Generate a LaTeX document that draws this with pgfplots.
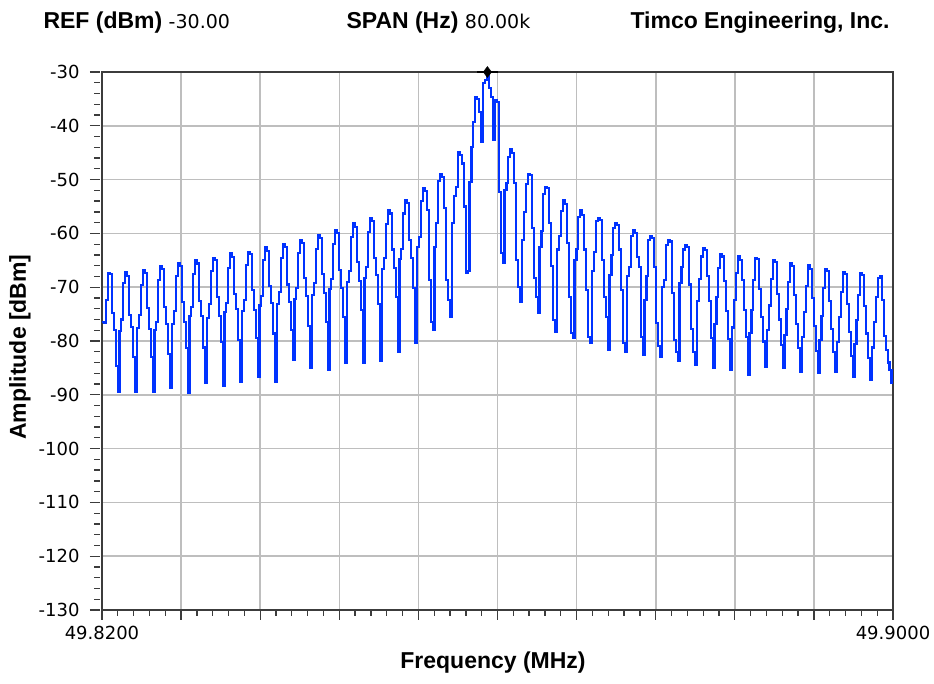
\documentclass[border=0pt]{standalone}
\usepackage{fontspec}
\setmainfont{Liberation Sans}
\newfontfamily\tickfont{DejaVu Sans}
\usepackage{pgfplots}
\pgfplotsset{compat=1.18}
\usepackage{pgfplotstable}

\definecolor{tracecol}{RGB}{0,50,255}
\definecolor{gridgray}{RGB}{190,190,190}
\definecolor{axisgray}{RGB}{60,60,60}

% one trace sample per row, about 1.94 px apart; one sidelobe per line
\pgfplotstableread[row sep=\\, header=false]{
-76.4\\ -76.6\\ -72.4\\
-67.4\\ -67.6\\ -74.8\\ -78.0\\ -84.6\\ -89.5\\ -78.1\\ -76.0\\ -69.3\\
-67.1\\ -67.9\\ -75.2\\ -77.4\\ -83.0\\ -89.5\\ -77.6\\ -75.1\\ -69.6\\
-66.8\\ -67.3\\ -73.9\\ -77.8\\ -82.9\\ -89.4\\ -77.9\\ -76.4\\ -68.6\\
-66.1\\ -66.7\\ -73.6\\ -76.9\\ -82.4\\ -88.7\\ -76.8\\ -74.5\\ -68.0\\
-65.6\\ -66.1\\ -72.7\\ -76.5\\ -81.3\\ -89.7\\ -75.4\\ -73.6\\ -67.5\\
-64.9\\ -65.6\\ -72.5\\ -75.3\\ -81.2\\ -87.8\\ -75.8\\ -73.2\\ -67.0\\
-64.6\\ -65.0\\ -71.8\\ -75.4\\ -80.2\\ -88.3\\ -74.6\\ -72.9\\ -66.4\\
-63.7\\ -64.4\\ -71.2\\ -74.1\\ -79.8\\ -87.6\\ -74.5\\ -72.3\\ -65.9\\
-63.4\\ -63.9\\ -70.6\\ -74.2\\ -79.4\\ -86.7\\ -73.4\\ -71.6\\ -65.0\\
-62.5\\ -63.2\\ -69.8\\ -73.0\\ -78.6\\ -87.6\\ -73.1\\ -70.9\\ -64.6\\
-62.0\\ -62.5\\ -69.5\\ -72.8\\ -77.9\\ -83.5\\ -72.2\\ -70.1\\ -63.6\\
-61.2\\ -61.8\\ -68.3\\ -71.7\\ -77.2\\ -85.0\\ -71.4\\ -69.2\\ -62.9\\
-60.3\\ -60.9\\ -67.6\\ -71.0\\ -76.4\\ -85.4\\ -70.3\\ -68.5\\ -61.9\\
-59.4\\ -60.0\\ -66.8\\ -70.1\\ -75.6\\ -84.0\\ -69.1\\ -67.0\\ -60.7\\
-58.1\\ -58.8\\ -65.4\\ -68.9\\ -74.3\\ -84.0\\ -68.3\\ -66.2\\ -59.8\\
-57.2\\ -57.7\\ -64.5\\ -67.8\\ -73.1\\ -83.8\\ -66.7\\ -64.6\\ -58.2\\
-55.7\\ -56.3\\ -63.0\\ -66.4\\ -71.9\\ -82.0\\ -64.8\\ -62.9\\ -56.3\\
-53.8\\ -54.4\\ -61.3\\ -64.6\\ -70.1\\ -80.4\\ -62.5\\ -60.6\\ -54.0\\
-51.5\\ -52.1\\ -55.7\\ -68.7\\ -76.5\\ -78.0\\ -62.5\\ -58.0\\ -50.2\\
-48.9\\ -49.5\\ -55.3\\ -68.7\\ -72.4\\ -75.5\\ -58.0\\ -53.0\\ -51.4\\
-44.8\\ -45.4\\ -47.0\\ -55.0\\ -67.4\\ -67.0\\ -50.4\\ -44.0\\ -39.3\\
-34.6\\ -35.0\\ -37.5\\ -43.0\\ -32.0\\ -31.5\\ -30.4\\ -33.0\\ -34.6\\
-42.6\\ -35.2\\ -35.6\\ -52.3\\ -63.7\\ -65.5\\ -52.0\\ -50.6\\ -45.8\\
-44.3\\ -45.0\\ -50.6\\ -65.0\\ -70.0\\ -72.8\\ -61.2\\ -56.0\\ -50.8\\
-49.0\\ -49.2\\ -59.0\\ -68.3\\ -71.8\\ -74.8\\ -62.5\\ -59.6\\ -52.7\\
-51.4\\ -51.6\\ -58.0\\ -66.0\\ -76.1\\ -78.3\\ -63.0\\ -60.5\\ -55.8\\
-53.8\\ -54.6\\ -61.8\\ -71.8\\ -78.5\\ -79.4\\ -65.0\\ -62.9\\ -57.0\\
-55.7\\ -56.6\\ -63.0\\ -70.5\\ -79.3\\ -80.4\\ -67.0\\ -63.5\\ -57.7\\
-57.2\\ -57.5\\ -65.0\\ -71.8\\ -75.5\\ -81.7\\ -67.7\\ -64.0\\ -59.0\\
-58.1\\ -58.4\\ -63.0\\ -70.5\\ -80.4\\ -82.0\\ -68.0\\ -66.2\\ -60.5\\
-59.4\\ -60.0\\ -64.4\\ -66.2\\ -79.3\\ -82.6\\ -72.4\\ -68.0\\ -61.3\\
-60.5\\ -60.9\\ -66.2\\ -76.7\\ -81.0\\ -83.0\\ -70.0\\ -68.7\\ -62.1\\
-61.2\\ -61.5\\ -71.0\\ -79.8\\ -82.1\\ -83.8\\ -69.2\\ -66.2\\ -63.0\\
-62.2\\ -62.6\\ -69.5\\ -77.8\\ -82.0\\ -84.5\\ -72.5\\ -68.4\\ -64.3\\
-62.7\\ -63.1\\ -68.0\\ -72.6\\ -79.4\\ -85.0\\ -76.8\\ -71.9\\ -66.5\\
-63.8\\ -64.3\\ -68.9\\ -74.5\\ -79.6\\ -85.4\\ -77.5\\ -72.3\\ -67.4\\
-64.2\\ -65.0\\ -68.7\\ -74.2\\ -79.2\\ -86.3\\ -78.5\\ -74.2\\ -68.7\\
-64.6\\ -64.8\\ -70.3\\ -75.6\\ -80.1\\ -84.8\\ -78.0\\ -73.4\\ -68.5\\
-64.9\\ -65.4\\ -71.2\\ -76.0\\ -80.7\\ -85.0\\ -78.9\\ -74.0\\ -69.1\\
-65.5\\ -66.0\\ -71.5\\ -76.9\\ -81.3\\ -85.8\\ -79.3\\ -74.6\\ -69.8\\
-65.9\\ -66.6\\ -72.0\\ -77.2\\ -81.9\\ -86.0\\ -79.8\\ -75.4\\ -70.2\\
-66.6\\ -67.0\\ -72.6\\ -77.8\\ -82.0\\ -85.8\\ -80.2\\ -75.6\\ -70.9\\
-67.1\\ -67.6\\ -73.1\\ -78.3\\ -82.8\\ -86.7\\ -80.6\\ -76.1\\ -71.4\\
-67.4\\ -67.8\\ -73.5\\ -78.6\\ -83.1\\ -87.3\\ -81.2\\ -76.4\\ -71.8\\
-68.3\\ -67.9\\ -72.4\\ -79.0\\ -81.6\\ -84.0\\ -85.4\\ -88.0\\
}\tracedata

\begin{document}
\begin{tikzpicture}
\useasboundingbox (0,0) rectangle (934bp,684bp);
\begin{axis}[
  at={(102bp,74bp)}, anchor=south west,
  scale only axis, width=791bp, height=538bp,
  xmin=0, xmax=406.8, ymin=-130, ymax=-30,
  xtick={0,40.68,81.36,122.04,162.72,203.4,244.08,284.76,325.44,366.12,406.8},
  xticklabels={49.8200,{},{},{},{},{},{},{},{},{},49.9000},
  ytick={-130,-120,...,-30},
  minor x tick num=4, minor y tick num=4,
  xtick pos=bottom, ytick pos=left,
  tick align=outside, major tick length=10bp, minor tick length=6bp,
  tick style={axisgray, line width=1.3bp},
  ytick style={xshift=-2bp},
  grid=major, major grid style={gridgray, line width=1.6bp},
  axis line style={axisgray, line width=1.6bp},
  ticklabel style={font=\tickfont\fontsize{18bp}{20bp}\selectfont, text=black},
  yticklabel style={xshift=-9bp},
  xticklabel style={yshift=-3bp},
  /pgf/number format/assume math mode=true,
  clip=false,
]
\addplot[const plot, draw=tracecol, line width=2.1bp, line join=miter] table[x expr=\coordindex, y index=0] {\tracedata};
\addplot[black, line width=1.2bp] coordinates {(193,-30) (203.5,-30)};
\addplot[black, only marks, mark=diamond*, mark size=5.5bp] coordinates {(198.2,-30)};
\end{axis}
\node[anchor=base west] at (40bp,655bp) {\fontsize{23bp}{26bp}\selectfont\bfseries REF (dBm)\ \mdseries\tickfont\fontsize{19bp}{21bp}\selectfont -30.00};
\node[anchor=base west] at (343bp,655bp) {\fontsize{23bp}{26bp}\selectfont\bfseries SPAN (Hz)\ \mdseries\tickfont\fontsize{19bp}{21bp}\selectfont 80.00k};
\node[anchor=base west] at (627bp,655bp) {\fontsize{23bp}{26bp}\selectfont\bfseries Timco Engineering, Inc.};
\node at (493bp,21bp) {\fontsize{23bp}{26bp}\selectfont\bfseries Frequency (MHz)};
\node[rotate=90] at (20bp,337bp) {\fontsize{23bp}{26bp}\selectfont\bfseries Amplitude [dBm]};
\end{tikzpicture}
\end{document}
